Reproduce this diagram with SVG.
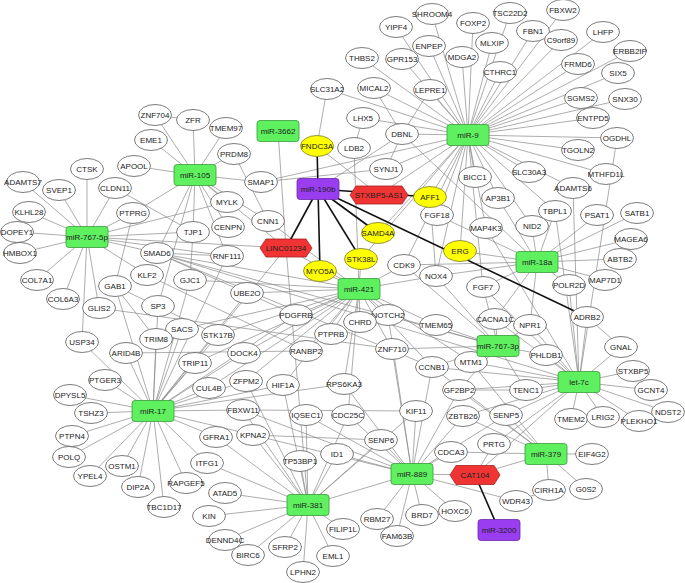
<svg xmlns="http://www.w3.org/2000/svg" width="685" height="583" viewBox="0 0 685 583">
<style>
.e line{stroke:#8a8a8a;stroke-width:.7}
.t line{stroke:#111;stroke-width:1.6}
.m ellipse{fill:#fff;stroke:#5a5a5a;stroke-width:.8}
.y ellipse{fill:#ffff00;stroke:#7a7a3a;stroke-width:.8}
.mi rect{fill:#5ef05e;stroke:#3a9a3a;stroke-width:.8}
.p rect{fill:#9a3cf0;stroke:#6a2aa8;stroke-width:.8}
.l polygon{fill:#f03434;stroke:#a82020;stroke-width:.8}
text{font-family:"Liberation Sans",Arial,sans-serif;font-size:8px;fill:#222;text-anchor:middle}
</style>
<rect width="685" height="583" fill="#fff"/>
<g id="connectors">
<g class="e">
<line x1="468" y1="135" x2="432" y2="14"/><line x1="468" y1="135" x2="396" y2="27"/><line x1="468" y1="135" x2="510" y2="13"/><line x1="468" y1="135" x2="563" y2="10"/><line x1="468" y1="135" x2="473" y2="23"/><line x1="468" y1="135" x2="533" y2="31"/><line x1="468" y1="135" x2="561" y2="40"/><line x1="468" y1="135" x2="603" y2="32"/><line x1="468" y1="135" x2="429" y2="46"/><line x1="468" y1="135" x2="492" y2="43"/><line x1="468" y1="135" x2="630" y2="51"/><line x1="468" y1="135" x2="462" y2="57"/><line x1="468" y1="135" x2="362" y2="58"/><line x1="468" y1="135" x2="402" y2="59"/><line x1="468" y1="135" x2="578" y2="64"/><line x1="468" y1="135" x2="500" y2="72"/><line x1="468" y1="135" x2="618" y2="73"/><line x1="468" y1="135" x2="327" y2="89"/><line x1="468" y1="135" x2="374" y2="88"/><line x1="468" y1="135" x2="430" y2="90"/><line x1="468" y1="135" x2="581" y2="98"/><line x1="468" y1="135" x2="625" y2="99"/><line x1="468" y1="135" x2="593" y2="118"/><line x1="468" y1="135" x2="363" y2="118"/><line x1="468" y1="135" x2="617" y2="138"/><line x1="468" y1="135" x2="402" y2="134"/><line x1="468" y1="135" x2="578" y2="150"/><line x1="468" y1="135" x2="386" y2="169"/><line x1="468" y1="135" x2="475" y2="177"/><line x1="468" y1="135" x2="529" y2="172"/><line x1="468" y1="135" x2="606" y2="174"/><line x1="468" y1="135" x2="573" y2="188"/><line x1="468" y1="135" x2="498" y2="198"/><line x1="468" y1="135" x2="430" y2="197"/><line x1="468" y1="135" x2="437" y2="215"/><line x1="468" y1="135" x2="486" y2="228"/><line x1="468" y1="135" x2="532" y2="226"/><line x1="468" y1="135" x2="555" y2="211"/><line x1="468" y1="135" x2="460" y2="251"/><line x1="468" y1="135" x2="436" y2="276"/><line x1="468" y1="135" x2="404" y2="265"/><line x1="468" y1="135" x2="378" y2="233"/><line x1="468" y1="135" x2="379" y2="195"/><line x1="468" y1="135" x2="261" y2="182"/><line x1="468" y1="135" x2="361" y2="259"/><line x1="468" y1="135" x2="483" y2="287"/>
<line x1="195" y1="175" x2="155" y2="115"/><line x1="195" y1="175" x2="193" y2="120"/><line x1="195" y1="175" x2="226" y2="128"/><line x1="195" y1="175" x2="151" y2="140"/><line x1="195" y1="175" x2="234" y2="154"/><line x1="195" y1="175" x2="134" y2="166"/><line x1="195" y1="175" x2="261" y2="182"/><line x1="195" y1="175" x2="227" y2="202"/><line x1="195" y1="175" x2="228" y2="227"/><line x1="195" y1="175" x2="193" y2="232"/><line x1="195" y1="175" x2="133" y2="213"/><line x1="195" y1="175" x2="268" y2="221"/><line x1="195" y1="175" x2="227" y2="256"/><line x1="195" y1="175" x2="158" y2="306"/><line x1="195" y1="175" x2="157" y2="253"/><line x1="195" y1="175" x2="286" y2="248"/>
<line x1="87" y1="237" x2="87" y2="169"/><line x1="87" y1="237" x2="23" y2="182"/><line x1="87" y1="237" x2="59" y2="190"/><line x1="87" y1="237" x2="115" y2="188"/><line x1="87" y1="237" x2="29" y2="212"/><line x1="87" y1="237" x2="17" y2="232"/><line x1="87" y1="237" x2="20" y2="253"/><line x1="87" y1="237" x2="37" y2="280"/><line x1="87" y1="237" x2="63" y2="299"/><line x1="87" y1="237" x2="99" y2="308"/><line x1="87" y1="237" x2="82" y2="342"/><line x1="87" y1="237" x2="147" y2="275"/><line x1="87" y1="237" x2="157" y2="253"/><line x1="87" y1="237" x2="133" y2="213"/><line x1="87" y1="237" x2="286" y2="248"/><line x1="87" y1="237" x2="227" y2="202"/><line x1="87" y1="237" x2="193" y2="232"/><line x1="87" y1="237" x2="227" y2="256"/>
<line x1="155" y1="115" x2="193" y2="120"/><line x1="115" y1="188" x2="193" y2="232"/><line x1="234" y1="154" x2="268" y2="221"/><line x1="193" y1="232" x2="190" y2="280"/><line x1="133" y1="213" x2="115" y2="286"/>
<line x1="153" y1="411" x2="70" y2="395"/><line x1="153" y1="411" x2="91" y2="413"/><line x1="153" y1="411" x2="72" y2="436"/><line x1="153" y1="411" x2="69" y2="457"/><line x1="153" y1="411" x2="90" y2="476"/><line x1="153" y1="411" x2="122" y2="466"/><line x1="153" y1="411" x2="138" y2="487"/><line x1="153" y1="411" x2="164" y2="507"/><line x1="153" y1="411" x2="186" y2="483"/><line x1="153" y1="411" x2="207" y2="463"/><line x1="153" y1="411" x2="216" y2="437"/><line x1="153" y1="411" x2="105" y2="380"/><line x1="153" y1="411" x2="82" y2="342"/><line x1="153" y1="411" x2="115" y2="286"/><line x1="153" y1="411" x2="126" y2="353"/><line x1="153" y1="411" x2="156" y2="339"/><line x1="153" y1="411" x2="158" y2="306"/><line x1="153" y1="411" x2="182" y2="329"/><line x1="153" y1="411" x2="195" y2="363"/><line x1="153" y1="411" x2="218" y2="335"/><line x1="153" y1="411" x2="209" y2="388"/><line x1="153" y1="411" x2="244" y2="353"/><line x1="153" y1="411" x2="243" y2="410"/><line x1="153" y1="411" x2="246" y2="381"/><line x1="153" y1="411" x2="283" y2="385"/><line x1="153" y1="411" x2="247" y2="293"/><line x1="153" y1="411" x2="286" y2="248"/><line x1="153" y1="411" x2="227" y2="256"/><line x1="153" y1="411" x2="190" y2="280"/><line x1="153" y1="411" x2="253" y2="435"/><line x1="153" y1="411" x2="344" y2="384"/><line x1="153" y1="411" x2="296" y2="315"/>
<line x1="308" y1="505" x2="300" y2="461"/><line x1="308" y1="505" x2="337" y2="454"/><line x1="308" y1="505" x2="381" y2="440"/><line x1="308" y1="505" x2="416" y2="411"/><line x1="308" y1="505" x2="216" y2="437"/><line x1="308" y1="505" x2="207" y2="463"/><line x1="308" y1="505" x2="225" y2="493"/><line x1="308" y1="505" x2="209" y2="516"/><line x1="308" y1="505" x2="225" y2="540"/><line x1="308" y1="505" x2="248" y2="555"/><line x1="308" y1="505" x2="285" y2="547"/><line x1="308" y1="505" x2="303" y2="572"/><line x1="308" y1="505" x2="333" y2="556"/><line x1="308" y1="505" x2="343" y2="529"/><line x1="308" y1="505" x2="412" y2="474"/><line x1="308" y1="505" x2="253" y2="435"/><line x1="308" y1="505" x2="243" y2="410"/><line x1="308" y1="505" x2="283" y2="385"/><line x1="308" y1="505" x2="306" y2="415"/><line x1="308" y1="505" x2="348" y2="415"/><line x1="308" y1="505" x2="246" y2="381"/><line x1="308" y1="505" x2="286" y2="248"/>
<line x1="412" y1="474" x2="451" y2="452"/><line x1="412" y1="474" x2="455" y2="511"/><line x1="412" y1="474" x2="422" y2="515"/><line x1="412" y1="474" x2="397" y2="536"/><line x1="412" y1="474" x2="377" y2="519"/><line x1="412" y1="474" x2="516" y2="501"/><line x1="412" y1="474" x2="475" y2="475"/><line x1="412" y1="474" x2="381" y2="440"/><line x1="412" y1="474" x2="416" y2="411"/><line x1="412" y1="474" x2="348" y2="415"/><line x1="412" y1="474" x2="306" y2="415"/><line x1="412" y1="474" x2="337" y2="454"/><line x1="412" y1="474" x2="463" y2="416"/><line x1="412" y1="474" x2="459" y2="390"/><line x1="412" y1="474" x2="432" y2="367"/><line x1="412" y1="474" x2="344" y2="384"/><line x1="412" y1="474" x2="506" y2="415"/><line x1="412" y1="474" x2="253" y2="435"/><line x1="412" y1="474" x2="243" y2="410"/><line x1="412" y1="474" x2="392" y2="349"/><line x1="412" y1="474" x2="388" y2="315"/>
<line x1="359" y1="289" x2="361" y2="259"/><line x1="359" y1="289" x2="320" y2="271"/><line x1="359" y1="289" x2="404" y2="265"/><line x1="359" y1="289" x2="436" y2="276"/><line x1="359" y1="289" x2="296" y2="315"/><line x1="359" y1="289" x2="360" y2="322"/><line x1="359" y1="289" x2="388" y2="315"/><line x1="359" y1="289" x2="331" y2="334"/><line x1="359" y1="289" x2="306" y2="351"/><line x1="359" y1="289" x2="392" y2="349"/><line x1="359" y1="289" x2="432" y2="367"/><line x1="359" y1="289" x2="436" y2="325"/><line x1="359" y1="289" x2="247" y2="293"/><line x1="359" y1="289" x2="286" y2="248"/><line x1="359" y1="289" x2="354" y2="148"/><line x1="359" y1="289" x2="157" y2="253"/><line x1="359" y1="289" x2="190" y2="280"/><line x1="359" y1="289" x2="268" y2="221"/><line x1="359" y1="289" x2="344" y2="384"/><line x1="359" y1="289" x2="283" y2="385"/><line x1="359" y1="289" x2="244" y2="353"/><line x1="359" y1="289" x2="218" y2="335"/><line x1="359" y1="289" x2="182" y2="329"/><line x1="359" y1="289" x2="471" y2="362"/><line x1="359" y1="289" x2="348" y2="415"/><line x1="359" y1="289" x2="195" y2="363"/><line x1="359" y1="289" x2="209" y2="388"/><line x1="359" y1="289" x2="246" y2="381"/><line x1="363" y1="118" x2="354" y2="148"/>
<line x1="498" y1="346" x2="495" y2="319"/><line x1="498" y1="346" x2="546" y2="355"/><line x1="498" y1="346" x2="526" y2="390"/><line x1="498" y1="346" x2="471" y2="362"/><line x1="498" y1="346" x2="436" y2="325"/><line x1="498" y1="346" x2="432" y2="367"/><line x1="498" y1="346" x2="388" y2="315"/><line x1="498" y1="346" x2="483" y2="287"/><line x1="498" y1="346" x2="436" y2="276"/><line x1="498" y1="346" x2="404" y2="265"/><line x1="498" y1="346" x2="459" y2="390"/><line x1="498" y1="346" x2="157" y2="253"/><line x1="498" y1="346" x2="392" y2="349"/><line x1="498" y1="346" x2="530" y2="325"/>
<line x1="579" y1="382" x2="587" y2="317"/><line x1="579" y1="382" x2="621" y2="347"/><line x1="579" y1="382" x2="633" y2="371"/><line x1="579" y1="382" x2="651" y2="390"/><line x1="579" y1="382" x2="668" y2="412"/><line x1="579" y1="382" x2="639" y2="421"/><line x1="579" y1="382" x2="603" y2="417"/><line x1="579" y1="382" x2="571" y2="419"/><line x1="579" y1="382" x2="506" y2="415"/><line x1="579" y1="382" x2="526" y2="390"/><line x1="579" y1="382" x2="471" y2="362"/><line x1="579" y1="382" x2="494" y2="444"/><line x1="579" y1="382" x2="475" y2="475"/><line x1="579" y1="382" x2="530" y2="325"/><line x1="579" y1="382" x2="569" y2="285"/><line x1="579" y1="382" x2="573" y2="188"/><line x1="579" y1="382" x2="486" y2="228"/><line x1="579" y1="382" x2="617" y2="138"/><line x1="579" y1="382" x2="459" y2="390"/><line x1="579" y1="382" x2="432" y2="367"/><line x1="579" y1="382" x2="463" y2="416"/><line x1="579" y1="382" x2="546" y2="355"/><line x1="579" y1="382" x2="555" y2="211"/><line x1="579" y1="382" x2="483" y2="287"/><line x1="579" y1="382" x2="157" y2="253"/><line x1="579" y1="382" x2="495" y2="319"/>
<line x1="537" y1="262" x2="532" y2="226"/><line x1="537" y1="262" x2="555" y2="211"/><line x1="537" y1="262" x2="597" y2="215"/><line x1="537" y1="262" x2="637" y2="213"/><line x1="537" y1="262" x2="631" y2="239"/><line x1="537" y1="262" x2="620" y2="259"/><line x1="537" y1="262" x2="605" y2="280"/><line x1="537" y1="262" x2="569" y2="285"/><line x1="537" y1="262" x2="460" y2="251"/><line x1="537" y1="262" x2="483" y2="287"/><line x1="537" y1="262" x2="495" y2="319"/><line x1="537" y1="262" x2="436" y2="276"/><line x1="537" y1="262" x2="498" y2="198"/><line x1="537" y1="262" x2="437" y2="215"/><line x1="537" y1="262" x2="402" y2="134"/><line x1="537" y1="262" x2="530" y2="325"/><line x1="537" y1="262" x2="404" y2="265"/>
<line x1="546" y1="454" x2="592" y2="454"/><line x1="546" y1="454" x2="549" y2="490"/><line x1="546" y1="454" x2="586" y2="489"/><line x1="546" y1="454" x2="475" y2="475"/><line x1="546" y1="454" x2="506" y2="415"/><line x1="546" y1="454" x2="459" y2="390"/><line x1="546" y1="454" x2="463" y2="416"/><line x1="546" y1="454" x2="451" y2="452"/><line x1="546" y1="454" x2="471" y2="362"/><line x1="546" y1="454" x2="432" y2="367"/>
<line x1="475" y1="475" x2="494" y2="444"/>
<line x1="278" y1="131" x2="286" y2="248"/><line x1="318" y1="189" x2="402" y2="134"/><line x1="379" y1="195" x2="317" y2="146"/><line x1="327" y1="89" x2="317" y2="146"/><line x1="430" y1="90" x2="402" y2="134"/><line x1="374" y1="88" x2="402" y2="134"/><line x1="402" y1="134" x2="386" y2="169"/><line x1="261" y1="182" x2="386" y2="169"/><line x1="430" y1="197" x2="436" y2="276"/><line x1="587" y1="317" x2="621" y2="347"/><line x1="126" y1="353" x2="306" y2="351"/><line x1="115" y1="286" x2="156" y2="339"/><line x1="115" y1="286" x2="218" y2="335"/><line x1="147" y1="275" x2="306" y2="351"/><line x1="99" y1="308" x2="392" y2="349"/><line x1="516" y1="501" x2="549" y2="490"/><line x1="243" y1="410" x2="416" y2="411"/><line x1="253" y1="435" x2="381" y2="440"/><line x1="459" y1="390" x2="526" y2="390"/><line x1="157" y1="253" x2="432" y2="367"/><line x1="157" y1="253" x2="296" y2="315"/><line x1="157" y1="253" x2="227" y2="256"/>
</g>
<g class="t">
<line x1="318" y1="189" x2="317" y2="146"/><line x1="318" y1="189" x2="286" y2="248"/><line x1="318" y1="189" x2="320" y2="271"/><line x1="318" y1="189" x2="361" y2="259"/><line x1="318" y1="189" x2="378" y2="233"/><line x1="318" y1="189" x2="587" y2="317"/><line x1="318" y1="189" x2="430" y2="197"/><line x1="475" y1="475" x2="499" y2="530"/>
</g>
</g>
<g id="nodes">
<g id="SHROOM4" class="m"><ellipse cx="432" cy="14" rx="16.5" ry="10.5"/><text x="432" y="17">SHROOM4</text></g>
<g id="YIPF4" class="m"><ellipse cx="396" cy="27" rx="16.5" ry="10.5"/><text x="396" y="30">YIPF4</text></g>
<g id="TSC22D2" class="m"><ellipse cx="510" cy="13" rx="16.5" ry="10.5"/><text x="510" y="16">TSC22D2</text></g>
<g id="FBXW2" class="m"><ellipse cx="563" cy="10" rx="16.5" ry="10.5"/><text x="563" y="13">FBXW2</text></g>
<g id="FOXP2" class="m"><ellipse cx="473" cy="23" rx="16.5" ry="10.5"/><text x="473" y="26">FOXP2</text></g>
<g id="FBN1" class="m"><ellipse cx="533" cy="31" rx="16.5" ry="10.5"/><text x="533" y="34">FBN1</text></g>
<g id="C9orf89" class="m"><ellipse cx="561" cy="40" rx="16.5" ry="10.5"/><text x="561" y="43">C9orf89</text></g>
<g id="LHFP" class="m"><ellipse cx="603" cy="32" rx="16.5" ry="10.5"/><text x="603" y="35">LHFP</text></g>
<g id="ENPEP" class="m"><ellipse cx="429" cy="46" rx="16.5" ry="10.5"/><text x="429" y="49">ENPEP</text></g>
<g id="MLXIP" class="m"><ellipse cx="492" cy="43" rx="16.5" ry="10.5"/><text x="492" y="46">MLXIP</text></g>
<g id="ERBB2IP" class="m"><ellipse cx="630" cy="51" rx="16.5" ry="10.5"/><text x="630" y="54">ERBB2IP</text></g>
<g id="MDGA2" class="m"><ellipse cx="462" cy="57" rx="16.5" ry="10.5"/><text x="462" y="60">MDGA2</text></g>
<g id="THBS2" class="m"><ellipse cx="362" cy="58" rx="16.5" ry="10.5"/><text x="362" y="61">THBS2</text></g>
<g id="GPR153" class="m"><ellipse cx="402" cy="59" rx="16.5" ry="10.5"/><text x="402" y="62">GPR153</text></g>
<g id="FRMD6" class="m"><ellipse cx="578" cy="64" rx="16.5" ry="10.5"/><text x="578" y="67">FRMD6</text></g>
<g id="CTHRC1" class="m"><ellipse cx="500" cy="72" rx="16.5" ry="10.5"/><text x="500" y="75">CTHRC1</text></g>
<g id="SIX5" class="m"><ellipse cx="618" cy="73" rx="16.5" ry="10.5"/><text x="618" y="76">SIX5</text></g>
<g id="SLC31A2" class="m"><ellipse cx="327" cy="89" rx="16.5" ry="10.5"/><text x="327" y="92">SLC31A2</text></g>
<g id="MICAL2" class="m"><ellipse cx="374" cy="88" rx="16.5" ry="10.5"/><text x="374" y="91">MICAL2</text></g>
<g id="LEPRE1" class="m"><ellipse cx="430" cy="90" rx="16.5" ry="10.5"/><text x="430" y="93">LEPRE1</text></g>
<g id="SGMS2" class="m"><ellipse cx="581" cy="98" rx="16.5" ry="10.5"/><text x="581" y="101">SGMS2</text></g>
<g id="SNX30" class="m"><ellipse cx="625" cy="99" rx="16.5" ry="10.5"/><text x="625" y="102">SNX30</text></g>
<g id="ENTPD5" class="m"><ellipse cx="593" cy="118" rx="16.5" ry="10.5"/><text x="593" y="121">ENTPD5</text></g>
<g id="LHX5" class="m"><ellipse cx="363" cy="118" rx="16.5" ry="10.5"/><text x="363" y="121">LHX5</text></g>
<g id="OGDHL" class="m"><ellipse cx="617" cy="138" rx="16.5" ry="10.5"/><text x="617" y="141">OGDHL</text></g>
<g id="DBNL" class="m"><ellipse cx="402" cy="134" rx="16.5" ry="10.5"/><text x="402" y="137">DBNL</text></g>
<g id="TGOLN2" class="m"><ellipse cx="578" cy="150" rx="16.5" ry="10.5"/><text x="578" y="153">TGOLN2</text></g>
<g id="LDB2" class="m"><ellipse cx="354" cy="148" rx="16.5" ry="10.5"/><text x="354" y="151">LDB2</text></g>
<g id="SYNJ1" class="m"><ellipse cx="386" cy="169" rx="16.5" ry="10.5"/><text x="386" y="172">SYNJ1</text></g>
<g id="BICC1" class="m"><ellipse cx="475" cy="177" rx="16.5" ry="10.5"/><text x="475" y="180">BICC1</text></g>
<g id="SLC30A3" class="m"><ellipse cx="529" cy="172" rx="16.5" ry="10.5"/><text x="529" y="175">SLC30A3</text></g>
<g id="MTHFD1L" class="m"><ellipse cx="606" cy="174" rx="16.5" ry="10.5"/><text x="606" y="177">MTHFD1L</text></g>
<g id="ADAMTS6" class="m"><ellipse cx="573" cy="188" rx="16.5" ry="10.5"/><text x="573" y="191">ADAMTS6</text></g>
<g id="SMAP1" class="m"><ellipse cx="261" cy="182" rx="16.5" ry="10.5"/><text x="261" y="185">SMAP1</text></g>
<g id="AP3B1" class="m"><ellipse cx="498" cy="198" rx="16.5" ry="10.5"/><text x="498" y="201">AP3B1</text></g>
<g id="ZNF704" class="m"><ellipse cx="155" cy="115" rx="16.5" ry="10.5"/><text x="155" y="118">ZNF704</text></g>
<g id="ZFR" class="m"><ellipse cx="193" cy="120" rx="16.5" ry="10.5"/><text x="193" y="123">ZFR</text></g>
<g id="TMEM97" class="m"><ellipse cx="226" cy="128" rx="16.5" ry="10.5"/><text x="226" y="131">TMEM97</text></g>
<g id="EME1" class="m"><ellipse cx="151" cy="140" rx="16.5" ry="10.5"/><text x="151" y="143">EME1</text></g>
<g id="PRDM8" class="m"><ellipse cx="234" cy="154" rx="16.5" ry="10.5"/><text x="234" y="157">PRDM8</text></g>
<g id="APOOL" class="m"><ellipse cx="134" cy="166" rx="16.5" ry="10.5"/><text x="134" y="169">APOOL</text></g>
<g id="CTSK" class="m"><ellipse cx="87" cy="169" rx="16.5" ry="10.5"/><text x="87" y="172">CTSK</text></g>
<g id="ADAMTS7" class="m"><ellipse cx="23" cy="182" rx="16.5" ry="10.5"/><text x="23" y="185">ADAMTS7</text></g>
<g id="SVEP1" class="m"><ellipse cx="59" cy="190" rx="16.5" ry="10.5"/><text x="59" y="193">SVEP1</text></g>
<g id="CLDN11" class="m"><ellipse cx="115" cy="188" rx="16.5" ry="10.5"/><text x="115" y="191">CLDN11</text></g>
<g id="MYLK" class="m"><ellipse cx="227" cy="202" rx="16.5" ry="10.5"/><text x="227" y="205">MYLK</text></g>
<g id="TBPL1" class="m"><ellipse cx="555" cy="211" rx="16.5" ry="10.5"/><text x="555" y="214">TBPL1</text></g>
<g id="PSAT1" class="m"><ellipse cx="597" cy="215" rx="16.5" ry="10.5"/><text x="597" y="218">PSAT1</text></g>
<g id="SATB1" class="m"><ellipse cx="637" cy="213" rx="16.5" ry="10.5"/><text x="637" y="216">SATB1</text></g>
<g id="FGF18" class="m"><ellipse cx="437" cy="215" rx="16.5" ry="10.5"/><text x="437" y="218">FGF18</text></g>
<g id="KLHL28" class="m"><ellipse cx="29" cy="212" rx="16.5" ry="10.5"/><text x="29" y="215">KLHL28</text></g>
<g id="PTPRG" class="m"><ellipse cx="133" cy="213" rx="16.5" ry="10.5"/><text x="133" y="216">PTPRG</text></g>
<g id="CNN1" class="m"><ellipse cx="268" cy="221" rx="16.5" ry="10.5"/><text x="268" y="224">CNN1</text></g>
<g id="NID2" class="m"><ellipse cx="532" cy="226" rx="16.5" ry="10.5"/><text x="532" y="229">NID2</text></g>
<g id="MAP4K3" class="m"><ellipse cx="486" cy="228" rx="16.5" ry="10.5"/><text x="486" y="231">MAP4K3</text></g>
<g id="CENPN" class="m"><ellipse cx="228" cy="227" rx="16.5" ry="10.5"/><text x="228" y="230">CENPN</text></g>
<g id="TJP1" class="m"><ellipse cx="193" cy="232" rx="16.5" ry="10.5"/><text x="193" y="235">TJP1</text></g>
<g id="MAGEA6" class="m"><ellipse cx="631" cy="239" rx="16.5" ry="10.5"/><text x="631" y="242">MAGEA6</text></g>
<g id="DOPEY1" class="m"><ellipse cx="17" cy="232" rx="16.5" ry="10.5"/><text x="17" y="235">DOPEY1</text></g>
<g id="SMAD6" class="m"><ellipse cx="157" cy="253" rx="16.5" ry="10.5"/><text x="157" y="256">SMAD6</text></g>
<g id="HMBOX1" class="m"><ellipse cx="20" cy="253" rx="16.5" ry="10.5"/><text x="20" y="256">HMBOX1</text></g>
<g id="RNF111" class="m"><ellipse cx="227" cy="256" rx="16.5" ry="10.5"/><text x="227" y="259">RNF111</text></g>
<g id="ABTB2" class="m"><ellipse cx="620" cy="259" rx="16.5" ry="10.5"/><text x="620" y="262">ABTB2</text></g>
<g id="CDK9" class="m"><ellipse cx="404" cy="265" rx="16.5" ry="10.5"/><text x="404" y="268">CDK9</text></g>
<g id="KLF2" class="m"><ellipse cx="147" cy="275" rx="16.5" ry="10.5"/><text x="147" y="278">KLF2</text></g>
<g id="NOX4" class="m"><ellipse cx="436" cy="276" rx="16.5" ry="10.5"/><text x="436" y="279">NOX4</text></g>
<g id="COL7A1" class="m"><ellipse cx="37" cy="280" rx="16.5" ry="10.5"/><text x="37" y="283">COL7A1</text></g>
<g id="GJC1" class="m"><ellipse cx="190" cy="280" rx="16.5" ry="10.5"/><text x="190" y="283">GJC1</text></g>
<g id="MAP7D1" class="m"><ellipse cx="605" cy="280" rx="16.5" ry="10.5"/><text x="605" y="283">MAP7D1</text></g>
<g id="POLR2D" class="m"><ellipse cx="569" cy="285" rx="16.5" ry="10.5"/><text x="569" y="288">POLR2D</text></g>
<g id="GAB1" class="m"><ellipse cx="115" cy="286" rx="16.5" ry="10.5"/><text x="115" y="289">GAB1</text></g>
<g id="FGF7" class="m"><ellipse cx="483" cy="287" rx="16.5" ry="10.5"/><text x="483" y="290">FGF7</text></g>
<g id="UBE2O" class="m"><ellipse cx="247" cy="293" rx="16.5" ry="10.5"/><text x="247" y="296">UBE2O</text></g>
<g id="COL6A3" class="m"><ellipse cx="63" cy="299" rx="16.5" ry="10.5"/><text x="63" y="302">COL6A3</text></g>
<g id="SP3" class="m"><ellipse cx="158" cy="306" rx="16.5" ry="10.5"/><text x="158" y="309">SP3</text></g>
<g id="GLIS2" class="m"><ellipse cx="99" cy="308" rx="16.5" ry="10.5"/><text x="99" y="311">GLIS2</text></g>
<g id="PDGFRB" class="m"><ellipse cx="296" cy="315" rx="16.5" ry="10.5"/><text x="296" y="318">PDGFRB</text></g>
<g id="NOTCH2" class="m"><ellipse cx="388" cy="315" rx="16.5" ry="10.5"/><text x="388" y="318">NOTCH2</text></g>
<g id="ADRB2" class="m"><ellipse cx="587" cy="317" rx="16.5" ry="10.5"/><text x="587" y="320">ADRB2</text></g>
<g id="CACNA1C" class="m"><ellipse cx="495" cy="319" rx="16.5" ry="10.5"/><text x="495" y="322">CACNA1C</text></g>
<g id="CHRD" class="m"><ellipse cx="360" cy="322" rx="16.5" ry="10.5"/><text x="360" y="325">CHRD</text></g>
<g id="TMEM65" class="m"><ellipse cx="436" cy="325" rx="16.5" ry="10.5"/><text x="436" y="328">TMEM65</text></g>
<g id="NPR1" class="m"><ellipse cx="530" cy="325" rx="16.5" ry="10.5"/><text x="530" y="328">NPR1</text></g>
<g id="SACS" class="m"><ellipse cx="182" cy="329" rx="16.5" ry="10.5"/><text x="182" y="332">SACS</text></g>
<g id="STK17B" class="m"><ellipse cx="218" cy="335" rx="16.5" ry="10.5"/><text x="218" y="338">STK17B</text></g>
<g id="PTPRB" class="m"><ellipse cx="331" cy="334" rx="16.5" ry="10.5"/><text x="331" y="337">PTPRB</text></g>
<g id="TRIM8" class="m"><ellipse cx="156" cy="339" rx="16.5" ry="10.5"/><text x="156" y="342">TRIM8</text></g>
<g id="USP34" class="m"><ellipse cx="82" cy="342" rx="16.5" ry="10.5"/><text x="82" y="345">USP34</text></g>
<g id="GNAL" class="m"><ellipse cx="621" cy="347" rx="16.5" ry="10.5"/><text x="621" y="350">GNAL</text></g>
<g id="ZNF710" class="m"><ellipse cx="392" cy="349" rx="16.5" ry="10.5"/><text x="392" y="352">ZNF710</text></g>
<g id="RANBP2" class="m"><ellipse cx="306" cy="351" rx="16.5" ry="10.5"/><text x="306" y="354">RANBP2</text></g>
<g id="DOCK4" class="m"><ellipse cx="244" cy="353" rx="16.5" ry="10.5"/><text x="244" y="356">DOCK4</text></g>
<g id="ARID4B" class="m"><ellipse cx="126" cy="353" rx="16.5" ry="10.5"/><text x="126" y="356">ARID4B</text></g>
<g id="PHLDB1" class="m"><ellipse cx="546" cy="355" rx="16.5" ry="10.5"/><text x="546" y="358">PHLDB1</text></g>
<g id="MTM1" class="m"><ellipse cx="471" cy="362" rx="16.5" ry="10.5"/><text x="471" y="365">MTM1</text></g>
<g id="TRIP11" class="m"><ellipse cx="195" cy="363" rx="16.5" ry="10.5"/><text x="195" y="366">TRIP11</text></g>
<g id="CCNB1" class="m"><ellipse cx="432" cy="367" rx="16.5" ry="10.5"/><text x="432" y="370">CCNB1</text></g>
<g id="STXBP5" class="m"><ellipse cx="633" cy="371" rx="16.5" ry="10.5"/><text x="633" y="374">STXBP5</text></g>
<g id="PTGER3" class="m"><ellipse cx="105" cy="380" rx="16.5" ry="10.5"/><text x="105" y="383">PTGER3</text></g>
<g id="ZFPM2" class="m"><ellipse cx="246" cy="381" rx="16.5" ry="10.5"/><text x="246" y="384">ZFPM2</text></g>
<g id="HIF1A" class="m"><ellipse cx="283" cy="385" rx="16.5" ry="10.5"/><text x="283" y="388">HIF1A</text></g>
<g id="RPS6KA3" class="m"><ellipse cx="344" cy="384" rx="16.5" ry="10.5"/><text x="344" y="387">RPS6KA3</text></g>
<g id="CUL4B" class="m"><ellipse cx="209" cy="388" rx="16.5" ry="10.5"/><text x="209" y="391">CUL4B</text></g>
<g id="GF2BP2" class="m"><ellipse cx="459" cy="390" rx="16.5" ry="10.5"/><text x="459" y="393">GF2BP2</text></g>
<g id="TENC1" class="m"><ellipse cx="526" cy="390" rx="16.5" ry="10.5"/><text x="526" y="393">TENC1</text></g>
<g id="GCNT4" class="m"><ellipse cx="651" cy="390" rx="16.5" ry="10.5"/><text x="651" y="393">GCNT4</text></g>
<g id="DPYSL5" class="m"><ellipse cx="70" cy="395" rx="16.5" ry="10.5"/><text x="70" y="398">DPYSL5</text></g>
<g id="FBXW11" class="m"><ellipse cx="243" cy="410" rx="16.5" ry="10.5"/><text x="243" y="413">FBXW11</text></g>
<g id="KIF11" class="m"><ellipse cx="416" cy="411" rx="16.5" ry="10.5"/><text x="416" y="414">KIF11</text></g>
<g id="IQSEC1" class="m"><ellipse cx="306" cy="415" rx="16.5" ry="10.5"/><text x="306" y="418">IQSEC1</text></g>
<g id="CDC25C" class="m"><ellipse cx="348" cy="415" rx="16.5" ry="10.5"/><text x="348" y="418">CDC25C</text></g>
<g id="SENP5" class="m"><ellipse cx="506" cy="415" rx="16.5" ry="10.5"/><text x="506" y="418">SENP5</text></g>
<g id="ZBTB26" class="m"><ellipse cx="463" cy="416" rx="16.5" ry="10.5"/><text x="463" y="419">ZBTB26</text></g>
<g id="NDST2" class="m"><ellipse cx="668" cy="412" rx="16.5" ry="10.5"/><text x="668" y="415">NDST2</text></g>
<g id="TSHZ3" class="m"><ellipse cx="91" cy="413" rx="16.5" ry="10.5"/><text x="91" y="416">TSHZ3</text></g>
<g id="TMEM2" class="m"><ellipse cx="571" cy="419" rx="16.5" ry="10.5"/><text x="571" y="422">TMEM2</text></g>
<g id="LRIG2" class="m"><ellipse cx="603" cy="417" rx="16.5" ry="10.5"/><text x="603" y="420">LRIG2</text></g>
<g id="PLEKHO1" class="m"><ellipse cx="639" cy="421" rx="16.5" ry="10.5"/><text x="639" y="424">PLEKHO1</text></g>
<g id="KPNA2" class="m"><ellipse cx="253" cy="435" rx="16.5" ry="10.5"/><text x="253" y="438">KPNA2</text></g>
<g id="PTPN4" class="m"><ellipse cx="72" cy="436" rx="16.5" ry="10.5"/><text x="72" y="439">PTPN4</text></g>
<g id="GFRA1" class="m"><ellipse cx="216" cy="437" rx="16.5" ry="10.5"/><text x="216" y="440">GFRA1</text></g>
<g id="SENP6" class="m"><ellipse cx="381" cy="440" rx="16.5" ry="10.5"/><text x="381" y="443">SENP6</text></g>
<g id="PRTG" class="m"><ellipse cx="494" cy="444" rx="16.5" ry="10.5"/><text x="494" y="447">PRTG</text></g>
<g id="CDCA3" class="m"><ellipse cx="451" cy="452" rx="16.5" ry="10.5"/><text x="451" y="455">CDCA3</text></g>
<g id="ID1" class="m"><ellipse cx="337" cy="454" rx="16.5" ry="10.5"/><text x="337" y="457">ID1</text></g>
<g id="EIF4G2" class="m"><ellipse cx="592" cy="454" rx="16.5" ry="10.5"/><text x="592" y="457">EIF4G2</text></g>
<g id="POLQ" class="m"><ellipse cx="69" cy="457" rx="16.5" ry="10.5"/><text x="69" y="460">POLQ</text></g>
<g id="TP53BP1" class="m"><ellipse cx="300" cy="461" rx="16.5" ry="10.5"/><text x="300" y="464">TP53BP1</text></g>
<g id="ITFG1" class="m"><ellipse cx="207" cy="463" rx="16.5" ry="10.5"/><text x="207" y="466">ITFG1</text></g>
<g id="OSTM1" class="m"><ellipse cx="122" cy="466" rx="16.5" ry="10.5"/><text x="122" y="469">OSTM1</text></g>
<g id="YPEL4" class="m"><ellipse cx="90" cy="476" rx="16.5" ry="10.5"/><text x="90" y="479">YPEL4</text></g>
<g id="RAPGEF5" class="m"><ellipse cx="186" cy="483" rx="16.5" ry="10.5"/><text x="186" y="486">RAPGEF5</text></g>
<g id="DIP2A" class="m"><ellipse cx="138" cy="487" rx="16.5" ry="10.5"/><text x="138" y="490">DIP2A</text></g>
<g id="G0S2" class="m"><ellipse cx="586" cy="489" rx="16.5" ry="10.5"/><text x="586" y="492">G0S2</text></g>
<g id="CIRH1A" class="m"><ellipse cx="549" cy="490" rx="16.5" ry="10.5"/><text x="549" y="493">CIRH1A</text></g>
<g id="ATAD5" class="m"><ellipse cx="225" cy="493" rx="16.5" ry="10.5"/><text x="225" y="496">ATAD5</text></g>
<g id="WDR43" class="m"><ellipse cx="516" cy="501" rx="16.5" ry="10.5"/><text x="516" y="504">WDR43</text></g>
<g id="TBC1D17" class="m"><ellipse cx="164" cy="507" rx="16.5" ry="10.5"/><text x="164" y="510">TBC1D17</text></g>
<g id="HOXC6" class="m"><ellipse cx="455" cy="511" rx="16.5" ry="10.5"/><text x="455" y="514">HOXC6</text></g>
<g id="BRD7" class="m"><ellipse cx="422" cy="515" rx="16.5" ry="10.5"/><text x="422" y="518">BRD7</text></g>
<g id="KIN" class="m"><ellipse cx="209" cy="516" rx="16.5" ry="10.5"/><text x="209" y="519">KIN</text></g>
<g id="RBM27" class="m"><ellipse cx="377" cy="519" rx="16.5" ry="10.5"/><text x="377" y="522">RBM27</text></g>
<g id="FILIP1L" class="m"><ellipse cx="343" cy="529" rx="16.5" ry="10.5"/><text x="343" y="532">FILIP1L</text></g>
<g id="FAM63B" class="m"><ellipse cx="397" cy="536" rx="16.5" ry="10.5"/><text x="397" y="539">FAM63B</text></g>
<g id="DENND4C" class="m"><ellipse cx="225" cy="540" rx="16.5" ry="10.5"/><text x="225" y="543">DENND4C</text></g>
<g id="SFRP2" class="m"><ellipse cx="285" cy="547" rx="16.5" ry="10.5"/><text x="285" y="550">SFRP2</text></g>
<g id="BIRC6" class="m"><ellipse cx="248" cy="555" rx="16.5" ry="10.5"/><text x="248" y="558">BIRC6</text></g>
<g id="EML1" class="m"><ellipse cx="333" cy="556" rx="16.5" ry="10.5"/><text x="333" y="559">EML1</text></g>
<g id="LPHN2" class="m"><ellipse cx="303" cy="572" rx="16.5" ry="10.5"/><text x="303" y="575">LPHN2</text></g>
<g id="FNDC3A" class="y"><ellipse cx="317" cy="146" rx="16.5" ry="10.5"/><text x="317" y="149">FNDC3A</text></g>
<g id="AFF1" class="y"><ellipse cx="430" cy="197" rx="16.5" ry="10.5"/><text x="430" y="200">AFF1</text></g>
<g id="SAMD4A" class="y"><ellipse cx="378" cy="233" rx="16.5" ry="10.5"/><text x="378" y="236">SAMD4A</text></g>
<g id="ERG" class="y"><ellipse cx="460" cy="251" rx="16.5" ry="10.5"/><text x="460" y="254">ERG</text></g>
<g id="STK38L" class="y"><ellipse cx="361" cy="259" rx="16.5" ry="10.5"/><text x="361" y="262">STK38L</text></g>
<g id="MYO5A" class="y"><ellipse cx="320" cy="271" rx="16.5" ry="10.5"/><text x="320" y="274">MYO5A</text></g>
<g id="LINC01234" class="l"><polygon points="260,248 266,239 306,239 312,248 306,257 266,257"/><text x="286" y="251">LINC01234</text></g>
<g id="STXBP5-AS1" class="l"><polygon points="350,195 356,186 402,186 408,195 402,204 356,204"/><text x="379" y="198">STXBP5-AS1</text></g>
<g id="CAT104" class="l"><polygon points="450,475 456,465.5 494,465.5 500,475 494,484.5 456,484.5"/><text x="475" y="478">CAT104</text></g>
<g id="miR-9" class="mi"><rect x="447" y="124.5" width="42" height="21" rx="3"/><text x="468" y="138">miR-9</text></g>
<g id="miR-105" class="mi"><rect x="174" y="164.5" width="42" height="21" rx="3"/><text x="195" y="178">miR-105</text></g>
<g id="miR-3662" class="mi"><rect x="257" y="120.5" width="42" height="21" rx="3"/><text x="278" y="134">miR-3662</text></g>
<g id="miR-767-5p" class="mi"><rect x="66" y="226.5" width="42" height="21" rx="3"/><text x="87" y="240">miR-767-5p</text></g>
<g id="miR-18a" class="mi"><rect x="516" y="251.5" width="42" height="21" rx="3"/><text x="537" y="265">miR-18a</text></g>
<g id="miR-421" class="mi"><rect x="338" y="278.5" width="42" height="21" rx="3"/><text x="359" y="292">miR-421</text></g>
<g id="miR-767-3p" class="mi"><rect x="477" y="335.5" width="42" height="21" rx="3"/><text x="498" y="349">miR-767-3p</text></g>
<g id="let-7c" class="mi"><rect x="558" y="371.5" width="42" height="21" rx="3"/><text x="579" y="385">let-7c</text></g>
<g id="miR-17" class="mi"><rect x="132" y="400.5" width="42" height="21" rx="3"/><text x="153" y="414">miR-17</text></g>
<g id="miR-379" class="mi"><rect x="525" y="443.5" width="42" height="21" rx="3"/><text x="546" y="457">miR-379</text></g>
<g id="miR-889" class="mi"><rect x="391" y="463.5" width="42" height="21" rx="3"/><text x="412" y="477">miR-889</text></g>
<g id="miR-381" class="mi"><rect x="287" y="494.5" width="42" height="21" rx="3"/><text x="308" y="508">miR-381</text></g>
<g id="miR-190b" class="p"><rect x="297" y="178.5" width="42" height="21" rx="3"/><text x="318" y="192">miR-190b</text></g>
<g id="miR-3200" class="p"><rect x="478" y="519.5" width="42" height="21" rx="3"/><text x="499" y="533">miR-3200</text></g>
</g>
</svg>
